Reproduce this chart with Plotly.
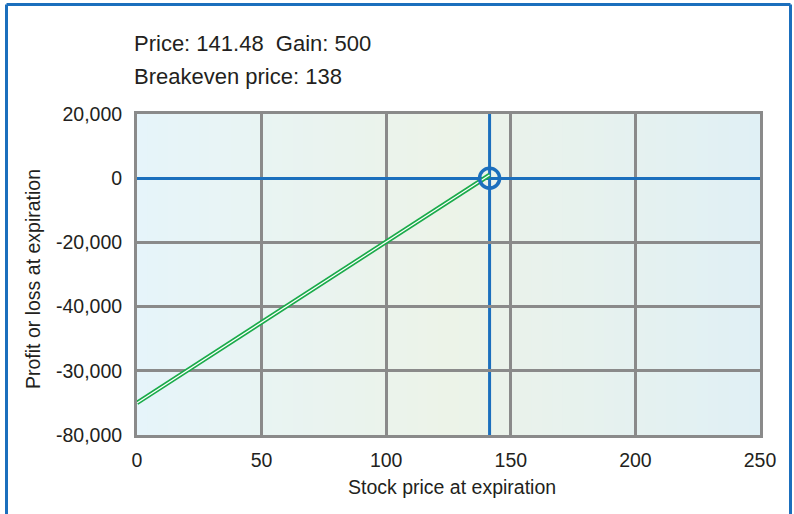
import plotly.graph_objects as go

# ---- data ----
price = 141.48
gain = 500
breakeven = 138
line_x = [0, 141.48]
line_y = [-70000, 1000]
x_ticks = [0, 50, 100, 150, 200, 250]
y_tickvals = [20000, 0, -20000, -40000, -60000, -80000]
y_ticktext = ["20,000", "0", "-20,000", "-40,000", "-30,000", "-80,000"]

# ---- layout geometry (pixels) ----
W, H = 794, 514
L, T = 137, 114
pw, ph = 623, 321
R = W - L - pw
B = H - T - ph

def px(x):
    return (x - L) / pw

def py(y):
    return (T + ph - y) / ph

BLUE = "#1b6fbd"
GRAY = "#8a8a8a"
GREEN = "#1aab4a"
TXT = "#231f20"
FONT = "Liberation Sans, Arial, sans-serif"

fig = go.Figure()

# gradient background strips
stops = [(0.0, (230, 244, 250)), (0.5, (236, 243, 232)), (1.0, (224, 240, 245))]
def col(t):
    for (t0, c0), (t1, c1) in zip(stops[:-1], stops[1:]):
        if t0 <= t <= t1:
            f = (t - t0) / (t1 - t0)
            return "rgb(%d,%d,%d)" % tuple(round(a + (b - a) * f) for a, b in zip(c0, c1))
    return "rgb(%d,%d,%d)" % stops[-1][1]

N = 60
shapes = []
for i in range(N):
    shapes.append(dict(type="rect", xref="paper", yref="paper",
                       x0=i / N, x1=(i + 1) / N + 0.002, y0=0, y1=1,
                       fillcolor=col((i + 0.5) / N), line=dict(width=0), layer="below"))
# outer blue frame (drawn as separate edges)
for (xa, xb, ya, yb) in [(6.5, 790.5, 4.5, 4.5), (6.5, 6.5, 4.5, 520),
                         (790.5, 790.5, 4.5, 520)]:
    shapes.append(dict(type="line", xref="paper", yref="paper",
                       x0=px(xa), x1=px(xb), y0=py(ya), y1=py(yb),
                       line=dict(color=BLUE, width=3), layer="above"))
# vertical blue line at price
shapes.append(dict(type="line", xref="x", yref="paper", x0=price, x1=price, y0=0, y1=1,
                   line=dict(color=BLUE, width=3), layer="between"))

# profit line (double line effect)
fig.add_trace(go.Scatter(x=line_x, y=line_y, mode="lines",
                         line=dict(color=GREEN, width=4.5), hoverinfo="skip"))
fig.add_trace(go.Scatter(x=line_x, y=line_y, mode="lines",
                         line=dict(color="white", width=1.2), hoverinfo="skip"))
# circle marker at price
fig.add_trace(go.Scatter(x=[price], y=[0], mode="markers",
                         marker=dict(symbol="circle-open", size=20, color=BLUE,
                                     line=dict(color=BLUE, width=3.5)),
                         hoverinfo="skip"))

annotations = [
    dict(text=f"Price: {price}&nbsp;&nbsp;Gain: {gain}", xref="paper", yref="paper",
         x=px(132), y=py(43), xanchor="left", yanchor="middle", showarrow=False,
         font=dict(family=FONT, size=22, color=TXT)),
    dict(text=f"Breakeven price: {breakeven}", xref="paper", yref="paper",
         x=px(132), y=py(76), xanchor="left", yanchor="middle", showarrow=False,
         font=dict(family=FONT, size=22, color=TXT)),
    dict(text="Profit or loss at expiration", xref="paper", yref="paper",
         x=px(33), y=py(279), textangle=-90, xanchor="center", yanchor="middle",
         showarrow=False, font=dict(family=FONT, size=19.5, color=TXT)),
    dict(text="Stock price at expiration", xref="paper", yref="paper",
         x=px(452), y=py(487), xanchor="center", yanchor="middle",
         showarrow=False, font=dict(family=FONT, size=19.5, color=TXT)),
]

fig.update_layout(
    width=W, height=H,
    margin=dict(l=L, r=R, t=T, b=B, pad=0),
    paper_bgcolor="white", plot_bgcolor="rgba(0,0,0,0)",
    showlegend=False,
    shapes=shapes, annotations=annotations,
    font=dict(family=FONT, size=19.5, color=TXT),
    xaxis=dict(range=[0, 250], tickvals=x_ticks, ticks="", ticklabelstandoff=6,
               showgrid=True, gridcolor=GRAY, gridwidth=2.5, zeroline=False,
               showline=True, linecolor=GRAY, linewidth=3, mirror=True,
               tickfont=dict(family=FONT, size=19.5, color=TXT)),
    yaxis=dict(range=[-80000, 20000], tickvals=y_tickvals, ticktext=y_ticktext, ticks="",
               ticklabelstandoff=8,
               showgrid=True, gridcolor=GRAY, gridwidth=2.5,
               zeroline=True, zerolinecolor=BLUE, zerolinewidth=3,
               showline=True, linecolor=GRAY, linewidth=3, mirror=True,
               tickfont=dict(family=FONT, size=19.5, color=TXT)),
)

fig.write_html("out.html", config={"displayModeBar": False},
               post_script="document.body.style.margin='0';")
